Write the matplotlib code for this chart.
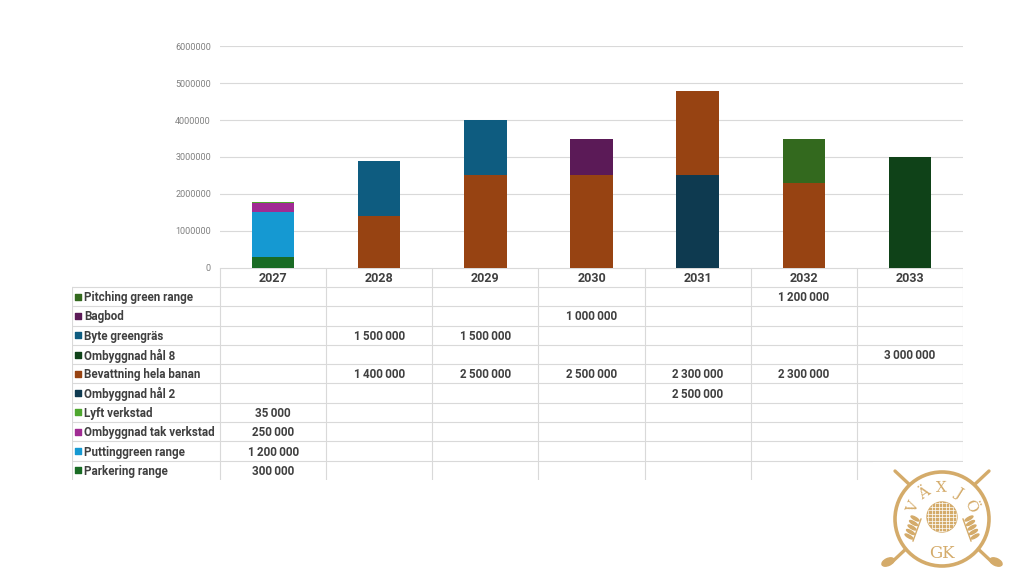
import numpy as np
import matplotlib
matplotlib.use("Agg")
import matplotlib.pyplot as plt
from matplotlib.patches import Circle, Ellipse

plt.rcParams['font.family'] = ['Roboto', 'DejaVu Sans']

years = ['2027', '2028', '2029', '2030', '2031', '2032', '2033']

# series in stacking order, bottom first
series_names = ['Parkering range', 'Puttinggreen range', 'Ombyggnad tak verkstad',
                'Lyft verkstad', 'Ombyggnad hål 2', 'Bevattning hela banan',
                'Ombyggnad hål 8', 'Byte greengräs', 'Bagbod', 'Pitching green range']
parkering = [300000, 0, 0, 0, 0, 0, 0]
puttinggreen = [1200000, 0, 0, 0, 0, 0, 0]
tak_verkstad = [250000, 0, 0, 0, 0, 0, 0]
lyft_verkstad = [35000, 0, 0, 0, 0, 0, 0]
hal_2 = [0, 0, 0, 0, 2500000, 0, 0]
bevattning = [0, 1400000, 2500000, 2500000, 2300000, 2300000, 0]
hal_8 = [0, 0, 0, 0, 0, 0, 3000000]
byte_green = [0, 1500000, 1500000, 0, 0, 0, 0]
bagbod = [0, 0, 0, 1000000, 0, 0, 0]
pitching = [0, 0, 0, 0, 0, 1200000, 0]
series_values = [parkering, puttinggreen, tak_verkstad, lyft_verkstad, hal_2,
                 bevattning, hal_8, byte_green, bagbod, pitching]
colors = ['#196B24', '#1599D2', '#A02B93', '#4EA72E', '#0E3A50',
          '#974312', '#0F4218', '#0E5C80', '#5B1A57', '#33691E']

W, H = 1030, 579
def box(x0, y0, x1, y1):
    return [x0 / W, 1 - y1 / H, (x1 - x0) / W, (y1 - y0) / H]

grid_c = '#D9D9D9'
text_c = '#404040'

fig = plt.figure(figsize=(W / 100, H / 100), dpi=100)

# chart
ax = fig.add_axes(box(220, 46.3, 963, 267.7))
x = np.arange(len(years))
bottom = np.zeros(len(years))
for vals, c in zip(series_values, colors):
    ax.bar(x, vals, 0.4, bottom=bottom, color=c, zorder=3)
    bottom += np.array(vals)
ax.set_xlim(-0.5, 6.5)
ax.set_ylim(0, 6000000)
ax.set_yticks(np.arange(0, 6000001, 1000000))
ax.set_yticklabels([str(v) for v in range(0, 6000001, 1000000)], fontsize=6.5, color='#808080')
ax.set_xticks([])
ax.tick_params(axis='y', length=0, pad=6.5)
ax.yaxis.grid(True, color=grid_c, lw=0.8, zorder=0)
for s in ax.spines.values():
    s.set_visible(False)

# data table under the chart
col_px = 743 / 7
label_w = 148 / col_px
tab = fig.add_axes(box(72, 267.7, 963, 480))
tab.set_xlim(-0.5 - label_w, 6.5)
tab.set_ylim(11, 0)
tab.axis('off')
def px(p):
    return -0.5 - label_w + (p - 72) / col_px

tab.plot([-0.5, 6.5], [0, 0], color=grid_c, lw=0.8)
for r in range(1, 11):
    tab.plot([-0.5 - label_w, 6.5], [r, r], color=grid_c, lw=0.8)
for k in range(8):
    tab.plot([-0.5 + k, -0.5 + k], [0, 11], color=grid_c, lw=0.8)
tab.plot([-0.5 - label_w] * 2, [1, 11], color=grid_c, lw=0.8)

for i, yr in enumerate(years):
    tab.text(i, 0.55, yr, ha='center', va='center', fontsize=9,
             fontweight='bold', color=text_c)

row_order = list(range(len(series_names)))[::-1]
for r, si in enumerate(row_order):
    yc = r + 1.55
    tab.scatter([px(78)], [yc - 0.05], marker='s', s=16, color=colors[si], clip_on=False)
    tab.text(px(84), yc, series_names[si], ha='left', va='center', fontsize=8.4,
             fontweight='bold', color=text_c)
    for i, v in enumerate(series_values[si]):
        if v:
            lbl = f'{v:,}'.replace(',', '\u2009')
            tab.text(i, yc, lbl, ha='center', va='center', fontsize=8.4,
                     fontweight='bold', color=text_c)

# club logo
gold = '#D4AB6A'
lg = fig.add_axes(box(873, 462, 1030, 579))
lg.set_xlim(873, 1030)
lg.set_ylim(579, 462)
lg.set_facecolor('white')
for s in lg.spines.values():
    s.set_visible(False)
lg.set_xticks([])
lg.set_yticks([])
cx, cy, rr = 942, 519, 47
lg.plot([895, 992], [471, 562], color=gold, lw=2.4, solid_capstyle='round', zorder=1)
lg.plot([989, 892], [471, 562], color=gold, lw=2.4, solid_capstyle='round', zorder=1)
lg.add_patch(Ellipse((888, 562), 13, 7, angle=-25, color=gold, zorder=1))
lg.add_patch(Ellipse((996, 562), 13, 7, angle=25, color=gold, zorder=1))
lg.add_patch(Circle((cx, cy), rr, facecolor='white', edgecolor=gold, lw=2.6, zorder=2))
ball = Circle((cx, cy - 2), 15, color=gold, zorder=3)
lg.add_patch(ball)
for g in np.arange(-14, 15, 3.5):
    ln1, = lg.plot([cx + g, cx + g], [cy - 20, cy + 16], color='white', lw=0.5, zorder=4)
    ln2, = lg.plot([cx - 17, cx + 17], [cy - 2 + g, cy - 2 + g], color='white', lw=0.5, zorder=4)
    ln1.set_clip_path(ball)
    ln2.set_clip_path(ball)
for ang, ch in zip([158, 124, 91, 58, 24], 'VÄXJÖ'):
    t = np.deg2rad(ang)
    lg.text(cx + 31 * np.cos(t), cy - 31 * np.sin(t), ch, rotation=ang - 90,
            ha='center', va='center', fontsize=11, color=gold,
            family='DejaVu Serif', zorder=5)
lg.text(cx, cy + 34, 'GK', ha='center', va='center', fontsize=12, color=gold,
        family='DejaVu Serif', zorder=5)
# laurel sprigs
for side in (-1, 1):
    for k in range(5):
        yy = cy + 1 + k * 4.5
        xx = cx + side * (22 + k * 1.5)
        lg.add_patch(Ellipse((xx + side * 5, yy - 1.5), 9, 2.6, angle=side * -30,
                             color=gold, zorder=5))
    lg.plot([cx + side * 21, cx + side * 29], [cy, cy + 22], color=gold, lw=1.0, zorder=5)

fig.savefig('out.png', dpi=100)
